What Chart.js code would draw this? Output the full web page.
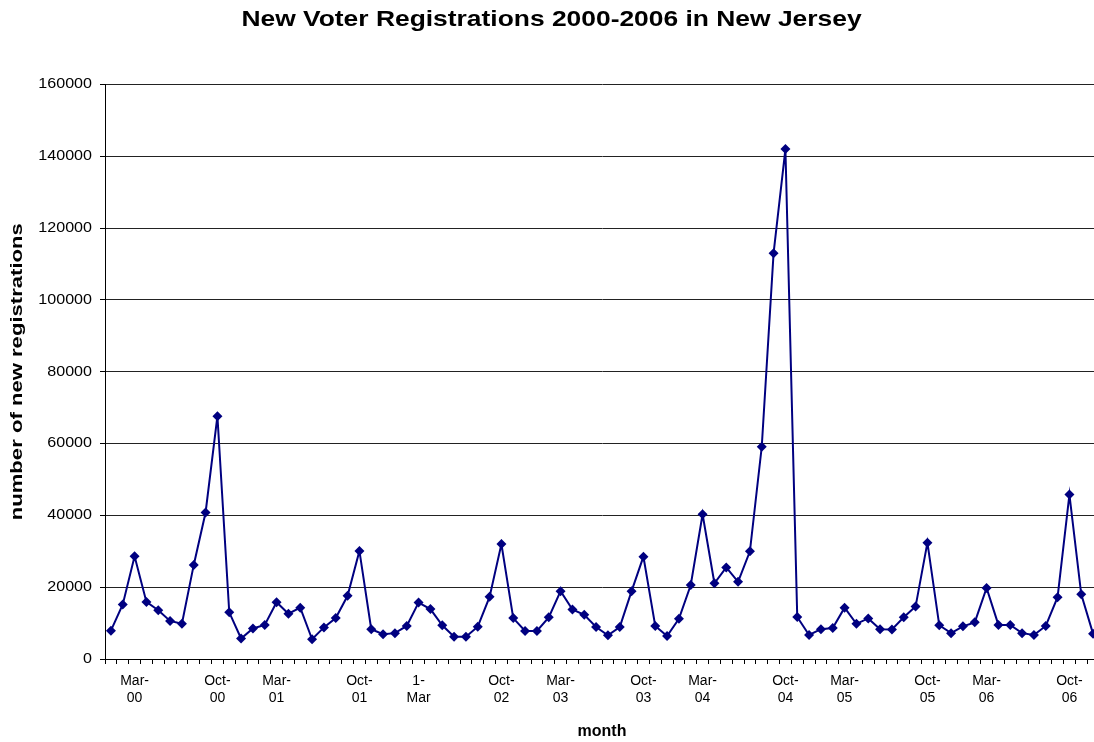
<!DOCTYPE html>
<html>
<head>
<meta charset="utf-8">
<title>New Voter Registrations 2000-2006 in New Jersey</title>
<script src="https://cdn.jsdelivr.net/npm/chart.js@4/dist/chart.umd.min.js"></script>
<style>
  html, body { margin: 0; padding: 0; background: #fff; overflow: hidden; }
  #grafico { display: block; }
</style>
</head>
<body>
<canvas id="grafico" width="1104" height="742"></canvas>
<script>
// Meses enero 2000 - diciembre 2006
const anios = ['00', '01', '02', '03', '04', '05', '06'];
const meses = ['Jan', 'Feb', 'Mar', 'Apr', 'May', 'Jun', 'Jul', 'Aug', 'Sep', 'Oct', 'Nov', 'Dec'];

// Nuevos registros por mes, un arreglo por año
const reg2000 = [7900, 15200, 28600, 15900, 13600, 10600, 9800, 26200, 40800, 67600, 13000, 5700];
const reg2001 = [8500, 9500, 15800, 12600, 14300, 5500, 8800, 11400, 17600, 30100, 8300, 6900];
const reg2002 = [7200, 9200, 15700, 13900, 9400, 6200, 6200, 9000, 17300, 32000, 11400, 7800];
const reg2003 = [7800, 11600, 18900, 13800, 12300, 8900, 6600, 8900, 18900, 28500, 9200, 6400];
const reg2004 = [11200, 20600, 40300, 21100, 25500, 21500, 30000, 59100, 113000, 142000, 11700, 6700];
const reg2005 = [8300, 8600, 14300, 9800, 11300, 8300, 8200, 11600, 14600, 32400, 9400, 7200];
const reg2006 = [9100, 10200, 19800, 9500, 9500, 7200, 6700, 9200, 17200, 45800, 18000, 7000];

// Etiquetas visibles del eje x (índice del mes -> texto en dos líneas)
const etiquetaIndice = [2, 9, 14, 21, 26, 33, 38, 45, 50, 57, 62, 69, 74, 81];
const etiquetaTexto = [
  ['Mar-', '00'], ['Oct-', '00'], ['Mar-', '01'], ['Oct-', '01'], ['1-', 'Mar'],
  ['Oct-', '02'], ['Mar-', '03'], ['Oct-', '03'], ['Mar-', '04'], ['Oct-', '04'],
  ['Mar-', '05'], ['Oct-', '05'], ['Mar-', '06'], ['Oct-', '06']
];

// Eje y
const yMin = 0;
const yMax = 160000;
const yPaso = 20000;

const categorias = [];
anios.forEach(a => meses.forEach(m => categorias.push(m + '-' + a)));
const valores = [].concat(reg2000, reg2001, reg2002, reg2003, reg2004, reg2005, reg2006);

const fuente = "'Liberation Sans', Arial, sans-serif";
const azul = '#000080';

// Envuelve un método de dibujo para estirar el texto alrededor de un punto
function estirar(chart, obj, metodo, sx, sy, centro) {
  const original = obj[metodo];
  obj[metodo] = function (...args) {
    const ctx = chart.ctx;
    const [cx, cy] = centro(this);
    ctx.save();
    ctx.translate(cx, cy);
    ctx.scale(sx, sy);
    ctx.translate(-cx, -cy);
    original.apply(this, args);
    ctx.restore();
  };
}

// Letras más anchas en el título y en el eje y
const textosAnchos = {
  id: 'textosAnchos',
  beforeDraw(chart) {
    if (chart.$anchos) return;
    chart.$anchos = true;
    estirar(chart, chart.titleBlock, 'draw', 1.2, 1, b => [(b.left + b.right) / 2, 0]);
    estirar(chart, chart.scales.y, 'drawTitle', 1, 1.3, s => [0, (s.top + s.bottom) / 2]);
    estirar(chart, chart.scales.y, 'drawLabels', 1.15, 1, s => [s.right - 13, 0]);
  }
};

new Chart(document.getElementById('grafico'), {
  type: 'line',
  data: {
    labels: categorias,
    datasets: [{
      label: 'registrations',
      data: valores,
      borderColor: azul,
      backgroundColor: azul,
      borderWidth: 2,
      tension: 0,
      pointStyle: 'rectRot',
      pointRadius: 5,
      pointBorderWidth: 0,
      pointBackgroundColor: azul
    }]
  },
  plugins: [textosAnchos],
  options: {
    responsive: false,
    animation: false,
    layout: { padding: { left: 0, right: 1, top: 0, bottom: 0 } },
    plugins: {
      legend: { display: false },
      tooltip: { enabled: false },
      title: {
        display: true,
        text: 'New Voter Registrations 2000-2006 in New Jersey',
        color: '#000',
        font: { family: fuente, size: 22, weight: 'bold', lineHeight: 1.2 },
        padding: { top: 7, bottom: 51 }
      }
    },
    scales: {
      x: {
        offset: true,
        grid: {
          offset: true,
          drawOnChartArea: false,
          drawTicks: true,
          tickLength: 5,
          color: '#000'
        },
        border: { color: '#000', width: 1 },
        ticks: {
          autoSkip: false,
          maxRotation: 0,
          minRotation: 0,
          padding: 9,
          color: '#000',
          font: { family: fuente, size: 14, lineHeight: 1.2 },
          callback: (valor, i) => {
            const k = etiquetaIndice.indexOf(i);
            return k >= 0 ? etiquetaTexto[k] : '';
          }
        },
        title: {
          display: true,
          text: 'month',
          color: '#000',
          font: { family: fuente, size: 16, weight: 'bold', lineHeight: 1.2 },
          padding: { top: 0, bottom: 1 }
        },
        afterFit: escala => { escala.height = 83; }
      },
      y: {
        min: yMin,
        max: yMax,
        grid: {
          color: '#222',
          lineWidth: 1,
          drawTicks: true,
          tickLength: 5,
          tickColor: '#000'
        },
        border: { color: '#000', width: 1 },
        ticks: {
          stepSize: yPaso,
          padding: 8,
          color: '#000',
          font: { family: fuente, size: 14 },
          callback: v => String(v)
        },
        title: {
          display: true,
          text: 'number of new registrations',
          color: '#000',
          font: { family: fuente, size: 17, weight: 'bold', lineHeight: 1.2 },
          padding: { top: 7, bottom: 0 }
        },
        afterFit: escala => { escala.width = 105; }
      }
    }
  }
});
</script>
</body>
</html>
